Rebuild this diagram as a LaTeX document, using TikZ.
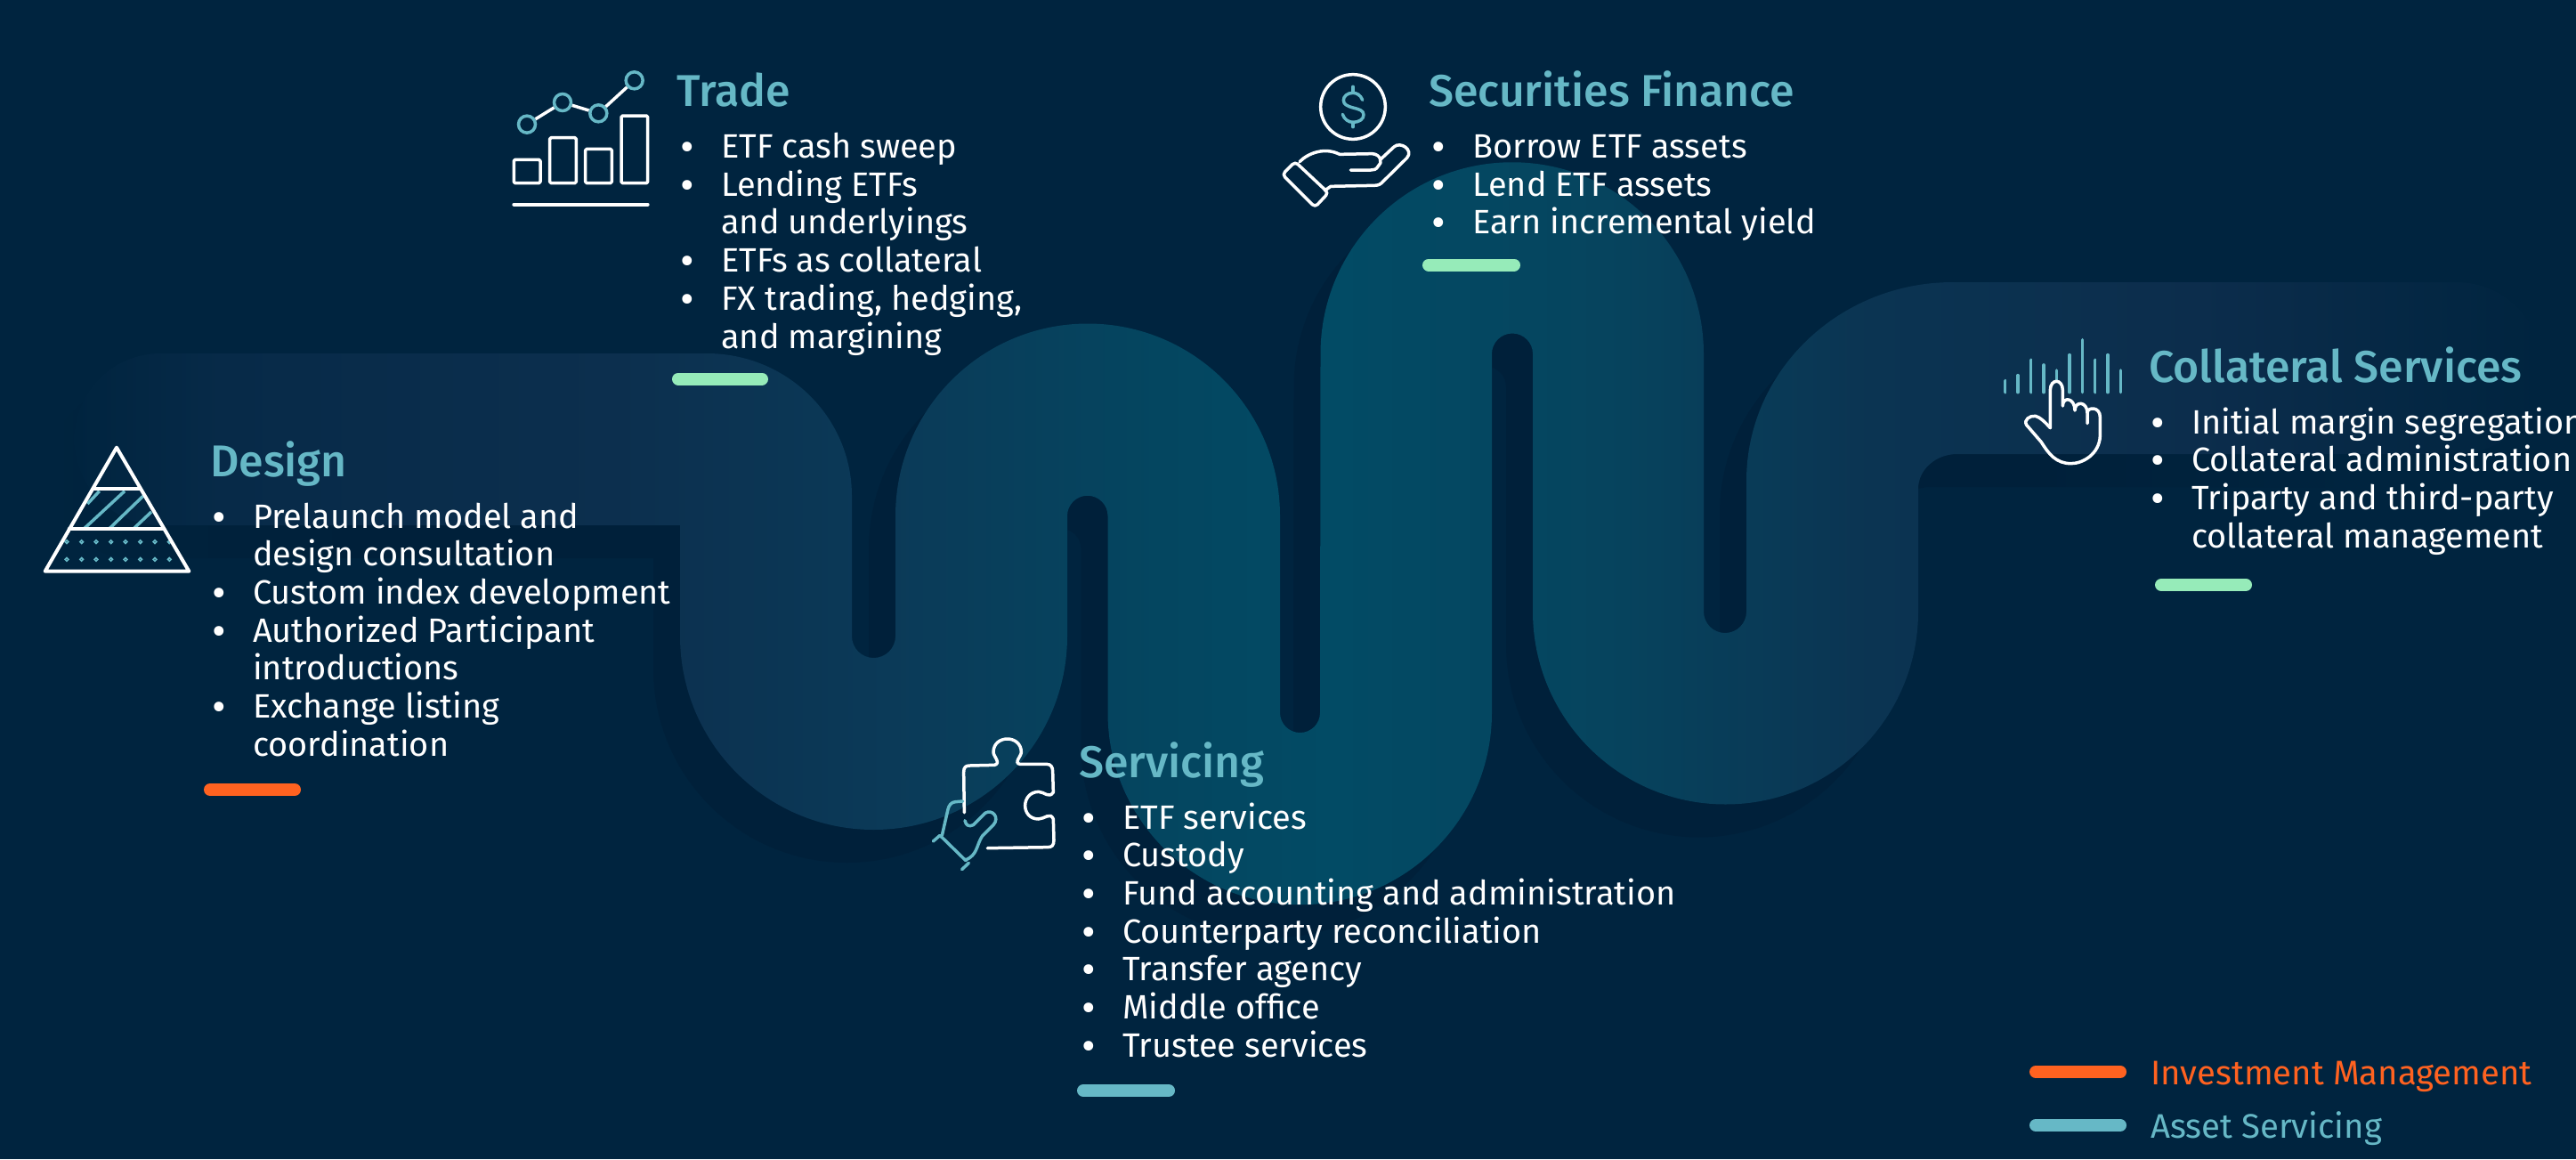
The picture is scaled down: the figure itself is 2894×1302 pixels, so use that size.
\documentclass[tikz,border=0pt]{standalone}
\usepackage{fontspec}
\setmainfont{Fira Sans}
\newfontfamily\headfont{Fira Sans Medium}
\usetikzlibrary{positioning}
\definecolor{bgnavy}{HTML}{00243F}
\definecolor{aqua}{HTML}{66B8C6}
\definecolor{mint}{HTML}{96EBB9}
\definecolor{flame}{HTML}{FF6220}
\definecolor{banda}{HTML}{072A48}
\definecolor{bandb}{HTML}{0C2F4E}
\definecolor{bandc}{HTML}{0B3A58}
\definecolor{bandd}{HTML}{044660}
\definecolor{bande}{HTML}{024B65}
\definecolor{bandf}{HTML}{06445E}
\definecolor{bandg}{HTML}{0B3452}
\definecolor{bandh}{HTML}{0C2D4C}
\definecolor{darka}{HTML}{00223C}
\definecolor{darkb}{HTML}{00203A}
\pgfdeclarehorizontalshading{bandfill}{100bp}{
  color(0bp)=(bgnavy); color(25bp)=(bgnavy);
  color(28bp)=(banda); color(36bp)=(bandb); color(41.5bp)=(bandc);
  color(47bp)=(bandd); color(50.5bp)=(bande); color(56bp)=(bandf);
  color(61.4bp)=(bandg); color(68bp)=(bandh); color(75bp)=(bgnavy); color(100bp)=(bgnavy)}
\pgfdeclarehorizontalshading{bandshadow}{100bp}{
  color(0bp)=(bgnavy); color(25bp)=(bgnavy); color(27bp)=(darka); color(32bp)=(darkb);
  color(65bp)=(darkb); color(72bp)=(bgnavy); color(100bp)=(bgnavy)}
\newcommand{\bandoutline}{
  (180,590) arc (90:270:96.5) -- (794,397) arc (270:360:163 and 160)
  -- (957,714.5) arc (180:0:24.5) -- (1006,579.5) arc (180:360:216)
  -- (1438,800.5) arc (180:0:22.5) -- (1483.5,397.5) arc (180:360:215.25)
  -- (1914,687) arc (180:0:24) -- (1962,540) arc (180:270:232 and 223)
  -- (2760,317) arc (270:450:96.5) -- (2199,510) arc (270:180:44 and 39)
  -- (2155,687) arc (0:180:216.5) -- (1722,397.5) arc (0:-180:23)
  -- (1676,800.5) arc (0:180:215.75) -- (1244.5,579.5) arc (0:-180:22.75)
  -- (1199,714.5) arc (0:180:217.5) -- (764,590) -- cycle}
\newcommand{\bu}{\raisebox{-4pt}{\fontsize{48}{10}\selectfont\textbullet}}
\newcommand{\blist}[1]{{\fontsize{37.9}{42.7}\selectfont
  \begin{tabular}{@{}p{46pt}@{}l@{}}#1\end{tabular}}}
\tikzset{
  head/.style={anchor=base west,inner sep=0,text=aqua,font=\fontsize{50}{56}\selectfont\headfont},
  items/.style={anchor=north west,inner sep=0,text=white},
  tick/.style={line width=14pt,line cap=round},
  wline/.style={draw=white,line width=3.5pt,line cap=round,line join=round},
  tline/.style={draw=aqua,line width=3.5pt,line cap=round,line join=round},
  ring/.style={circle,draw=aqua,line width=3.5pt,minimum size=19pt,inner sep=0},
  legendtext/.style={anchor=base west,inner sep=0,font=\fontsize{38.3}{42}\selectfont},
}
\begin{document}
\begin{tikzpicture}[x=1pt,y=-1pt]
\useasboundingbox (0,0) rectangle (2894,1302);
\fill[bgnavy] (0,0) rectangle (2894,1302);
% the band and its shadow
\begin{scope}[shift={(-30,37)}]
\shade[shading=bandshadow] \bandoutline;
\end{scope}
\shade[shading=bandfill] \bandoutline;
% headings
\node[head] (design) at (236,535) {Design};
\node[head] (trade) at (760,119) {Trade};
\node[head] (finance) at (1605,119) {Securities Finance};
\node[head] (collateral) at (2414,429) {Collateral Services};
\node[head] (servicing) at (1212,873) {Servicing};
% lists
\node[items] (designlist) at (238,563) {\blist{
  \bu & Prelaunch model and\\
   & design consultation\\
  \bu & Custom index development\\
  \bu & Authorized Participant\\
   & introductions\\
  \bu & Exchange listing\\
   & coordination}};
\node[items] (tradelist) at (764,147.5) {\blist{
  \bu & ETF cash sweep\\
  \bu & Lending ETFs\\
   & and underlyings\\
  \bu & ETFs as collateral\\
  \bu & FX trading, hedging,\\
   & and margining}};
\node[items] (financelist) at (1608,147.5) {\blist{
  \bu & Borrow ETF assets\\
  \bu & Lend ETF assets\\
  \bu & Earn incremental yield}};
\node[items] (collaterallist) at (2416,457) {\blist{
  \bu & Initial margin segregation\\
  \bu & Collateral administration\\
  \bu & Triparty and third-party\\
   & collateral management}};
\node[items] (servicinglist) at (1215,901) {\blist{
  \bu & ETF services\\
  \bu & Custody\\
  \bu & Fund accounting and administration\\
  \bu & Counterparty reconciliation\\
  \bu & Transfer agency\\
  \bu & Middle office\\
  \bu & Trustee services}};
% coloured ticks
\draw[tick,flame] (236,887) -- (331,887);
\draw[tick,mint] (762,425.5) -- (856,425.5);
\draw[tick,mint] (1605,297.5) -- (1701,297.5);
\draw[tick,mint] (2428,657) -- (2523,657);
\draw[tick,aqua] (1217,1225) -- (1313,1225);
% legend
\draw[tick,flame] (2287,1204) -- (2382,1204);
\draw[tick,aqua] (2287,1264) -- (2382,1264);
\node[legendtext,text=flame] (legendim) at (2416,1218) {Investment Management};
\node[legendtext,text=aqua] (legendas) at (2416,1278) {Asset Servicing};
% pyramid
\begin{scope}[shift={(30,480)},scale=1/3]
\foreach \a/\b/\c/\d in {245/215/205/258,330/215/195/340,392/232/280/340,420/285/362/340}
  \draw[tline,line cap=butt] (\a,\b) -- (\c,\d);
\foreach \y in {386,445}
  \foreach \x in {135,185,234,284,333,383,432,481}
    \draw[aqua,line width=1.6pt] (\x,\y) circle (5.5);
\draw[wline,line width=4pt] (303,68) -- (547,485) -- (62,485) -- cycle;
\draw[wline,line width=4pt] (225,207) -- (382,207);
\draw[wline,line width=4pt] (143,343) -- (463,343);
\end{scope}
% chart
\begin{scope}[shift={(560,60)},scale=1/3]
\foreach \a/\b in {52/358,173/284,293/322,414/210}
  \draw[wline,rounded corners=1.5pt] (\a,\b) rectangle (\a+89,437);
\draw[wline,line width=4pt] (52,509) -- (503,509);
\node[ring] (pta) at (96,239) {};
\node[ring] (ptb) at (216,165) {};
\node[ring] (ptc) at (337,202) {};
\node[ring] (ptd) at (458,91) {};
\draw[white,line width=3.5pt] (pta) -- (ptb);
\draw[white,line width=3.5pt] (ptb) -- (ptc);
\draw[white,line width=3.5pt] (ptc) -- (ptd);
\end{scope}
% hand and coin
\begin{scope}[shift={(1420,60)},scale=1/3]
\draw[wline] (300,180) circle (109);
\draw[tline] (332,157) .. controls (326,140) and (312,133) .. (300,133)
  .. controls (280,133) and (268,145) .. (268,158)
  .. controls (268,172) and (282,178) .. (300,183)
  .. controls (320,188) and (336,192) .. (336,207)
  .. controls (336,222) and (320,232) .. (300,232)
  .. controls (285,232) and (270,222) .. (265,205);
\draw[tline] (300,112) -- (300,133) (300,232) -- (300,248);
\draw[wline,rounded corners=4pt] (105,365) -- (62,408) -- (172,518) -- (217,470) -- cycle;
\draw[wline] (120,365) .. controls (150,335) and (205,315) .. (255,340)
  -- (365,338) .. controls (395,340) and (400,370) .. (385,380)
  .. controls (378,392) and (370,393) .. (360,393) -- (292,393);
\draw[wline] (392,358) -- (438,315) .. controls (460,295) and (505,325) .. (482,352)
  -- (405,428) .. controls (392,443) and (385,445) .. (370,445) -- (225,448) -- (205,462);
\end{scope}
% pointing hand
\begin{scope}[shift={(2230,360)},scale=1/3]
\foreach \x/\y in {68/203,111/185,155/133,198/150,241/168,285/116,328/65,371/133,414/116,457/168}
  \draw[tline,line width=3.6pt] (\x,\y) -- (\x,242);
\fill[bandb] (222,235) .. controls (222,195) and (262,195) .. (262,235) -- (262,300) -- (222,300) -- cycle;
\draw[wline] (220,362) -- (220,235) .. controls (220,195) and (262,195) .. (262,235)
  -- (262,288) .. controls (262,255) and (303,260) .. (303,303)
  .. controls (303,270) and (345,272) .. (345,312) -- (345,347);
\draw[wline] (345,312) .. controls (345,290) and (388,290) .. (388,325)
  -- (388,390) .. controls (385,450) and (330,482) .. (290,482)
  .. controls (240,482) and (215,450) .. (190,410)
  -- (140,352) .. controls (130,335) and (150,320) .. (170,322)
  .. controls (185,325) and (205,345) .. (220,362);
\end{scope}
% puzzle and hand
\begin{scope}[shift={(1030,810)},scale=1/3]
\draw[wline] (160,308) -- (158,172) .. controls (158,155) and (165,150) .. (178,150)
  -- (262,148) .. controls (285,142) and (258,118) .. (258,105)
  .. controls (258,45) and (352,45) .. (352,105)
  .. controls (352,118) and (325,142) .. (348,145)
  -- (438,145) .. controls (452,145) and (458,155) .. (458,170)
  -- (460,240) .. controls (445,262) and (430,238) .. (410,238)
  .. controls (350,240) and (350,330) .. (410,330)
  .. controls (430,330) and (450,305) .. (460,330)
  -- (462,400) .. controls (462,420) and (455,425) .. (440,425) -- (238,428);
\draw[tline] (155,270) -- (130,272) .. controls (115,273) and (108,285) .. (105,297) -- (85,385);
\draw[tline] (78,385) -- (165,470);
\draw[tline] (55,405) -- (78,385);
\draw[tline] (152,500) -- (175,478);
\draw[tline] (165,468) .. controls (205,450) and (200,420) .. (220,388)
  -- (258,350) .. controls (280,325) and (255,295) .. (230,310)
  -- (190,350) .. controls (175,358) and (165,350) .. (162,335);
\end{scope}
\end{tikzpicture}
\end{document}
